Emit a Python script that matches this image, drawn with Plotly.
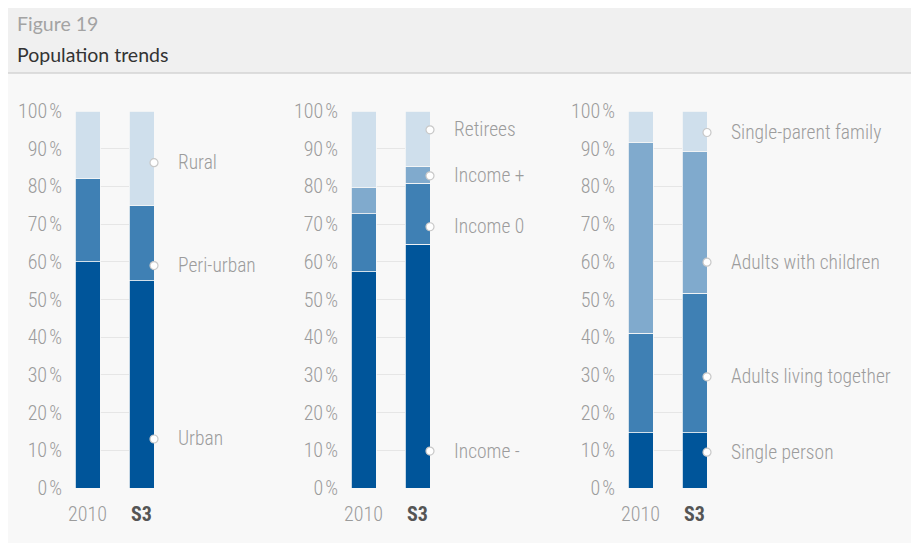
import plotly.graph_objects as go

# the page renders the figure with an 8px body margin, so work in
# reference-pixel coordinates and subtract that offset
OFF = 8
W, H = 919 - OFF, 543 - OFF

# ---------------- data ----------------
periods = ["2010", "S3"]
period_ticks = ["2010", "<b><span style='color:#555555'>S3</span></b>"]

geo_series = ["Urban", "Peri-urban", "Rural"]
geo_values = [[60, 55], [22, 20], [18, 25]]
geo_label_y = [13, 59, 86.3]

income_series = ["Income -", "Income 0", "Income +", "Retirees"]
income_values = [[57.3, 64.7], [15.4, 16.2], [6.9, 4.4], [20.4, 14.7]]
income_label_y = [9.8, 69.3, 82.8, 95]

household_series = ["Single person", "Adults living together", "Adults with children", "Single-parent family"]
household_values = [[14.6, 14.6], [26.5, 37.1], [50.5, 37.5], [8.4, 10.8]]
household_label_y = [9.5, 29.5, 59.9, 94.3]

y_ticks = [0, 10, 20, 30, 40, 50, 60, 70, 80, 90, 100]
y_tick_text = [f"{v}\u200a%" for v in y_ticks]

# ---------------- style ----------------
DARK = "#00559a"
MID = "#3f80b4"
LIGHTMID = "#80aacd"
LIGHT = "#cfdfec"
colors3 = [DARK, MID, LIGHT]
colors4 = [DARK, MID, LIGHTMID, LIGHT]
COND = "Roboto Condensed, Liberation Sans Narrow, DejaVu Sans Condensed, Roboto, sans-serif"
HEAD = "Lato, Open Sans, sans-serif"
GREY = "#9c9c9c"


def px(x):
    return (x - OFF) / W


def py(y):
    return 1 - (y - OFF) / H


panels = [
    (geo_series, geo_values, colors3, geo_label_y, 75),
    (income_series, income_values, colors4, income_label_y, 351),
    (household_series, household_values, colors4, household_label_y, 628),
]

SPACING = 54.0   # px between bar centres
BARW = 25.0      # px bar width
half = BARW / 2 / SPACING
xr = [-half, 1 + half]
width_px = BARW + SPACING

y_top, y_bot = 111, 488
ydom = [py(y_bot), py(y_top)]

fig = go.Figure()
shapes = []
annotations = []

# background frame
shapes.append(dict(type="rect", xref="paper", yref="paper", x0=px(3), x1=px(915), y0=-0.02, y1=py(2),
                   fillcolor="#f8f8f8", line=dict(color="#dcdcdc", width=1.5), layer="below"))
shapes.append(dict(type="rect", xref="paper", yref="paper", x0=px(3), x1=px(915), y0=py(73), y1=py(2),
                   fillcolor="#f0f0f0", line=dict(color="#d4d4d4", width=1.5), layer="below"))

annotations.append(dict(text="Figure 19", xref="paper", yref="paper", x=px(15), y=py(23),
                        xanchor="left", yanchor="middle", showarrow=False,
                        font=dict(family=HEAD, size=19.5, color="#a3a3a3")))
annotations.append(dict(text="Population trends", xref="paper", yref="paper", x=px(15), y=py(54),
                        xanchor="left", yanchor="middle", showarrow=False,
                        font=dict(family=HEAD, size=19.5, color="#333333")))

for i, (names, vals, cols, label_y, left_px) in enumerate(panels):
    k = i + 1
    xa = "x" if k == 1 else f"x{k}"
    ya = "y" if k == 1 else f"y{k}"
    for name, v, c in zip(names, vals, cols):
        fig.add_trace(go.Bar(x=[0, 1], y=v, name=name, marker=dict(color=c, line=dict(color="#f8f8f8", width=0.8)),
                             width=BARW / SPACING, xaxis=xa, yaxis=ya, showlegend=False, hoverinfo="skip"))
    edge = 1 + half
    for name, ly in zip(names, label_y):
        shapes.append(dict(type="line", xref=xa, yref=ya, xsizemode="pixel", xanchor=edge,
                           x0=0, x1=21, y0=ly, y1=ly, line=dict(color="#c4c4c4", width=1.3)))
        annotations.append(dict(text=name, xref=xa, yref=ya, x=edge, y=ly, xshift=22, xanchor="left",
                                yanchor="middle", showarrow=False,
                                font=dict(family=COND, size=19.5, color=GREY, weight=300)))
    fig.add_trace(go.Scatter(x=[edge] * len(label_y), y=label_y, mode="markers", xaxis=xa, yaxis=ya,
                             marker=dict(size=8, color="white", line=dict(color="#c8c8c8", width=1.2)),
                             cliponaxis=False, showlegend=False, hoverinfo="skip"))
    right_px = left_px + width_px
    fig.update_layout(**{
        ("xaxis" if k == 1 else f"xaxis{k}"): dict(
            domain=[px(left_px), px(right_px)], range=xr, anchor=ya, tickmode="array", tickvals=[0, 1],
            ticktext=period_ticks, showgrid=False, zeroline=False, showline=False, automargin=False,
            ticks="outside", ticklen=8, tickcolor="rgba(0,0,0,0)",
            tickfont=dict(family=COND, size=20, color=GREY, weight=300), fixedrange=True),
        ("yaxis" if k == 1 else f"yaxis{k}"): dict(
            domain=ydom, range=[0, 100], anchor=xa, tickmode="array", tickvals=y_ticks,
            ticktext=y_tick_text, showgrid=True, gridcolor="#e6e6e6", gridwidth=1, zeroline=False,
            showline=False, ticks="outside", ticklen=8, tickcolor="rgba(0,0,0,0)", automargin=False,
            tickfont=dict(family=COND, size=20, color=GREY, weight=300), fixedrange=True),
    })

fig.update_layout(template="none", width=W, height=H, margin=dict(l=0, r=0, t=0, b=0, pad=0),
                  autosize=False, barmode="stack",
                  paper_bgcolor="white", plot_bgcolor="rgba(0,0,0,0)",
                  shapes=shapes, annotations=annotations)

fig.write_html("out.html")
